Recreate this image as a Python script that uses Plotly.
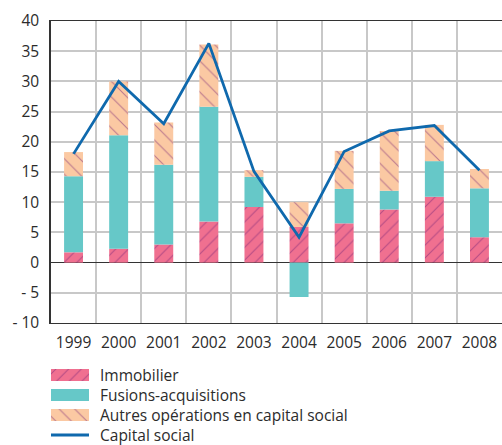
import plotly.graph_objects as go

years = ["1999", "2000", "2001", "2002", "2003", "2004", "2005", "2006", "2007", "2008"]
immobilier = [1.7, 2.3, 3.0, 6.8, 9.2, 5.9, 6.5, 8.8, 10.9, 4.2]
fusions = [12.6, 18.8, 13.2, 19.0, 5.0, -5.7, 5.7, 3.1, 5.9, 8.1]
autres = [4.0, 8.9, 7.0, 10.3, 1.1, 4.1, 6.3, 9.9, 6.0, 3.2]
capital_social = [18.0, 30.0, 23.0, 36.3, 15.1, 4.2, 18.4, 21.8, 22.7, 15.3]

ytick_vals = [-10, -5, 0, 5, 10, 15, 20, 25, 30, 35, 40]
ytick_text = ["- 10", "- 5", "0", "5", "10", "15", "20", "25", "30", "35", "40"]

legend_labels = ["Immobilier", "Fusions-acquisitions",
                 "Autres opérations en capital social", "Capital social"]

FONT = "'Open Sans', Lato, sans-serif"
FS = 15.5
TXT = "#2b2b2b"
HATCH = "#7a2878"
C_IMMO = "#f07090"
C_FUS = "#66c8c8"
C_AUT = "#fbc9a3"
C_LINE = "#0f69ad"

W, H = 502, 445
ML, MT = 51, 21
PLOT_BOTTOM = 323          # pixel row of the main plot's bottom
plot_h = H - MT
main_dom0 = (H - PLOT_BOTTOM) / plot_h

immo_marker = dict(color=C_IMMO, line=dict(width=0),
                   pattern=dict(shape="/", fgcolor=HATCH, bgcolor=C_IMMO,
                                size=9, solidity=0.12))
fus_marker = dict(color=C_FUS, line=dict(width=0))
aut_marker = dict(color=C_AUT, line=dict(width=0),
                  pattern=dict(shape="\\", fgcolor=HATCH, bgcolor=C_AUT,
                               size=11, solidity=0.1))

fig = go.Figure()
fig.add_trace(go.Bar(x=years, y=immobilier, name=legend_labels[0], marker=immo_marker))
fig.add_trace(go.Bar(x=years, y=fusions, name=legend_labels[1], marker=fus_marker))
fig.add_trace(go.Bar(x=years, y=autres, name=legend_labels[2], marker=aut_marker))
fig.add_trace(go.Scatter(x=years, y=capital_social, name=legend_labels[3], mode="lines",
                         line=dict(color=C_LINE, width=2.8)))

# ---- custom legend (wide swatches) drawn on a pixel-scaled helper axis ----
sw_len = 38
rows = [70, 50, 30, 10]   # rows in helper-axis units (pixels from bottom)
for lab, mk, ry in zip(legend_labels[:3], [immo_marker, fus_marker, aut_marker], rows[:3]):
    fig.add_trace(go.Bar(x=[sw_len], y=[ry], base=[0], width=[12], orientation="h",
                         marker=mk, xaxis="x2", yaxis="y2", hoverinfo="skip"))
fig.add_trace(go.Scatter(x=[0, sw_len], y=[rows[3], rows[3]], mode="lines",
                         line=dict(color=C_LINE, width=3), xaxis="x2", yaxis="y2",
                         hoverinfo="skip"))
for lab, ry in zip(legend_labels, rows):
    fig.add_annotation(x=47, y=ry, xref="x2", yref="y2", text=lab, showarrow=False,
                       xanchor="left", yanchor="middle",
                       font=dict(family=FONT, size=FS, color=TXT))

fig.update_layout(
    width=W, height=H,
    margin=dict(l=ML, r=0, t=MT, b=0),
    paper_bgcolor="white", plot_bgcolor="white",
    barmode="relative", bargap=0.58,
    font=dict(family=FONT, size=FS, color=TXT),
    showlegend=False,
    xaxis=dict(
        type="category", tickson="boundaries", anchor="y",
        showgrid=True, gridcolor="#c8c8c8", gridwidth=1.5,
        showline=True, linecolor="#333333", linewidth=1.2, mirror=True,
        ticks="", ticklabelstandoff=5, automargin=False,
        tickfont=dict(family=FONT, size=FS, color=TXT),
    ),
    yaxis=dict(
        domain=[main_dom0, 1], anchor="x",
        range=[-10, 40], tickvals=ytick_vals, ticktext=ytick_text,
        showgrid=True, gridcolor="#c8c8c8", gridwidth=1.5,
        zeroline=True, zerolinecolor="#333333", zerolinewidth=1.2,
        showline=True, linecolor="#333333", linewidth=1.5,
        ticks="", ticklabelstandoff=7, automargin=False,
        tickfont=dict(family=FONT, size=FS, color=TXT),
    ),
    xaxis2=dict(domain=[0, 1], range=[0, W - ML], anchor="y2", visible=False,
                fixedrange=True),
    yaxis2=dict(domain=[0, main_dom0], range=[0, H - PLOT_BOTTOM], anchor="x2",
                visible=False, fixedrange=True),
)

fig.write_html("out.html", config={"displayModeBar": False},
               post_script="document.body.style.margin='0';document.body.style.overflow='hidden';")
